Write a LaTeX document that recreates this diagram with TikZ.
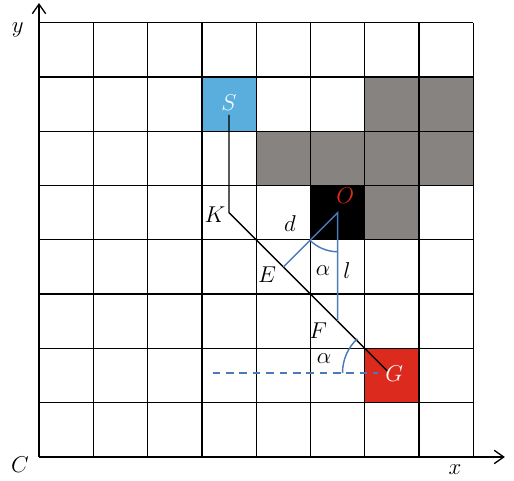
\documentclass[tikz,border=0pt]{standalone}
\usetikzlibrary{arrows.meta}
\definecolor{cellblue}{HTML}{5AAEDD}
\definecolor{cellgray}{HTML}{868381}
\definecolor{cellred}{HTML}{DC2A1F}
\definecolor{lineblue}{HTML}{4A7AB8}
\tikzset{every picture/.style={line width=0.7pt}}

\begin{document}
\begin{tikzpicture}[
    lbl/.style={font=\fontsize{11.5}{14}\selectfont},
    blueline/.style={lineblue,line width=0.75pt},
    axisarrow/.style={-{Straight Barb[length=5pt,width=7pt]}}]
    \useasboundingbox (-0.718,-0.442) rectangle (8.748,8.416);

    % obstacle cells
    \foreach \c/\r in {6/6,7/6,4/5,5/5,6/5,7/5,6/4} {
        \fill[cellgray] (\c,\r) rectangle ++(1,1);
    }
    \fill[black] (5,4) rectangle ++(1,1);
    \fill[cellblue] (3,6) rectangle ++(1,1);
    \fill[cellred] (6,1) rectangle ++(1,1);

    % grid and axes
    \draw (0,0) grid (8,8);
    \coordinate (C) at (0,0);
    \coordinate (ytip) at (0,8.36);
    \coordinate (xtip) at (8.58,0);
    \draw[axisarrow] (C) -- (ytip);
    \draw[axisarrow] (C) -- (xtip);

    % path points
    \coordinate (S) at (3.5,6.3);
    \coordinate (K) at (3.5,4.5);
    \coordinate (G) at (6.42,1.58);
    \coordinate (O) at (5.5,4.5);
    \coordinate (E) at (4.5,3.5);
    \coordinate (F) at (5.5,2.5);
    \coordinate (Gc) at (6.45,1.55);
    \coordinate (dashstart) at (3.2,1.55);
    \coordinate (dashend) at (6.25,1.55);

    % path S-K-G
    \draw (S) -- (K) -- (G);

    % distances and angles
    \draw[blueline] (E) -- (O) -- (F);
    \draw[blueline] (O) ++(225:0.72) arc (225:270:0.72);
    \draw[blueline,dash pattern=on 4pt off 3pt] (dashstart) -- (dashend);
    \draw[blueline] (Gc) ++(180:0.86) arc (180:133:0.86);

    % labels
    \node[lbl,text=white] (Slab) at (3.5,6.52) {$S$};
    \node[lbl,text=cellred] (Olab) at (5.64,4.82) {$O$};
    \node[lbl,text=white] (Glab) at (6.54,1.53) {$G$};
    \node[lbl] (Klab) at (3.24,4.46) {$K$};
    \node[lbl] (dlab) at (4.62,4.29) {$d$};
    \node[lbl] (Elab) at (4.2,3.35) {$E$};
    \node[lbl] (alab) at (5.23,3.43) {$\alpha$};
    \node[lbl] (llab) at (5.67,3.43) {$l$};
    \node[lbl] (Flab) at (5.14,2.32) {$F$};
    \node[lbl] (alab2) at (5.25,1.82) {$\alpha$};
    \node[lbl] (ylab) at (-0.39,7.86) {$y$};
    \node[lbl] (Clab) at (-0.35,-0.15) {$C$};
    \node[lbl] (xlab) at (7.66,-0.24) {$x$};
\end{tikzpicture}
\end{document}
